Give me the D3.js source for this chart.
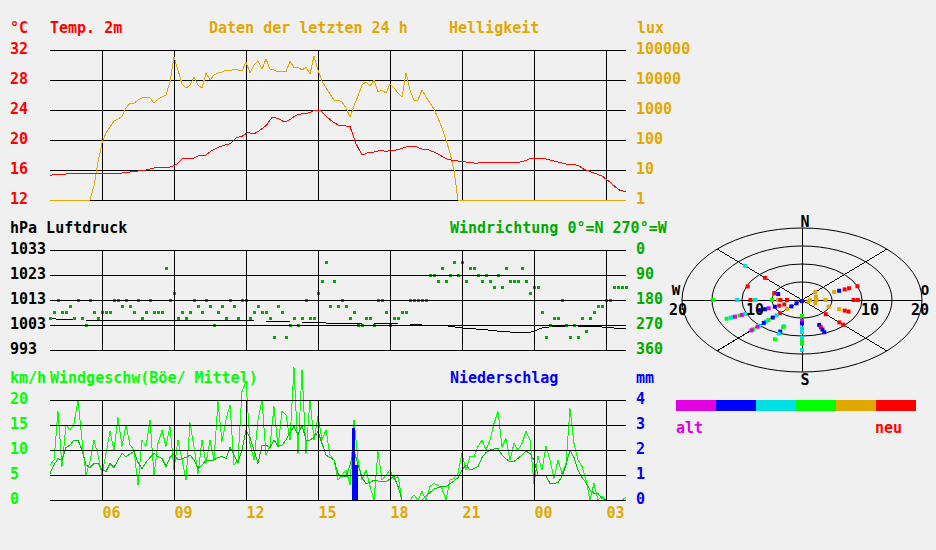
<!DOCTYPE html>
<html>
<head>
<meta charset="utf-8">
<script src="https://cdn.jsdelivr.net/npm/d3@7"></script>
<style>
  body { margin: 0; background: #f0f0f0; }
  text { font-family: "DejaVu Sans Mono", monospace; font-size: 15px; font-weight: bold; }
  .crisp path, .crisp line, .crisp rect { shape-rendering: crispEdges; }
</style>
</head>
<body>
<svg id="chart" width="936" height="550"></svg>
<script>
// ---- data ----
// temperature °C, every 15 min from 03:50
const temperature = [
  15.3,15.4,15.4,15.5,15.6,15.6,15.6,15.6,15.6,15.6,
  15.6,15.6,15.6,15.7,15.8,15.9,16.0,16.2,16.4,16.4,
  16.4,16.7,17.5,17.5,17.6,18.0,18.0,18.6,19.0,19.3,
  19.5,20.3,20.5,21.0,20.8,21.3,21.9,23.0,22.9,22.4,
  22.7,23.3,23.5,23.6,23.9,24.0,23.2,22.5,22.0,21.9,
  21.8,19.5,18.0,18.3,18.4,18.6,18.5,18.6,18.7,19.0,
  19.2,19.1,18.8,18.7,18.4,18.0,17.5,17.3,17.2,17.1,
  17.0,16.9,17.0,17.0,17.0,17.0,17.0,17.0,17.0,17.2,
  17.5,17.6,17.6,17.4,17.2,17.0,16.8,16.8,16.6,16.1,
  15.8,15.5,15.2,14.6,13.9,13.3,13.1
];

// brightness lux, every 10 min
const lux = [
  1,1,1,1,1,1,1,1,1,1,1,
  3,18,80,170,270,430,500,630,1150,1700,
  1700,2150,2500,2700,2500,1700,2300,2700,3200,8600,
  58000,21500,7400,5400,6800,12600,6800,5400,17000,10000,
  14700,17000,18500,21500,20000,23000,21500,20000,40000,17000,
  31600,43000,23000,50000,23000,21500,18500,20000,18500,43000,
  25000,27000,21500,27000,15800,63000,21500,9300,5400,3400,
  2150,2150,1850,1170,580,1370,2900,6800,8600,6300,
  10000,4000,4600,3700,7400,5400,3700,2700,17000,4600,
  2150,2150,4600,2700,1700,1080,540,250,100,37,
  10,1,
  1,1,1,1,1,1,1,1,1,1,1,1,1,1,1,1,1,1,1,1,1,
  1,1,1,1,1,1,1,1,1,1,1,1,1,1,1,1,1,1,1,1,1
];

// air pressure hPa, every 30 min
const pressure = [
  1005.7,1005.1,1005.0,1005.0,1005.0,1004.7,1004.7,1004.7,1004.7,1004.7,
  1004.7,1004.7,1004.6,1004.8,1004.7,1004.6,1004.7,1004.6,1004.6,1004.3,
  1004.2,1004.2,1004.2,1003.8,1003.6,1003.5,1003.4,1003.4,1003.5,1003.4,
  1003.4,1003.0,1002.6,1002.7,1002.0,1001.5,1001.3,1000.7,1000.3,1000.0,
  1000.0,1001.8,1002.5,1002.6,1002.6,1002.6,1002.2,1001.8,1001.8
];

// wind direction degrees, every 10 min
const windDir = [
  247.5,225,180,225,225,202.5,247.5,180,247.5,270,
  180,225,247.5,225,225,225,180,180,202.5,180,
  202.5,225,180,247.5,225,180,225,225,225,67.5,
  180,157.5,247.5,225,247.5,225,180,202.5,225,180,
  202.5,270,225,202.5,247.5,180,202.5,247.5,180,180,
  247.5,225,202.5,225,225,247.5,315,202.5,225,315,
  270,247.5,270,247.5,180,247.5,247.5,157.5,112.5,45,
  202.5,112.5,202.5,180,202.5,247.5,225,270,270,247.5,
  247.5,270,180,180,225,270,247.5,247.5,225,225,
  180,180,180,180,180,90,90,112.5,67.5,112.5,
  90,45,90,45,112.5,67.5,67.5,90,112.5,90,
  112.5,135,90,135,67.5,112.5,112.5,112.5,67.5,112.5,
  157.5,135,135,225,315,270,247.5,247.5,180,270,
  315,270,315,247.5,292.5,247.5,225,202.5,202.5,180,
  180,135,135,135,135
];

// wind gusts km/h, every 10 min
const windGust = [
  7,8,17.7,6.7,15,14,15.3,20,12,5,
  7.7,12,9,5,9.3,13.7,10,16.5,10.7,15,
  11,10,3,12,10.7,16,5,11.3,13.9,10.7,
  14.7,6,12,8,4,15.5,10.7,5.3,12,7.3,
  12,8,19.7,11.7,16,19,7,8,21.7,23.7,
  11.3,8,16,20,9,10.7,18.7,10.7,17.7,17,
  12,26.5,9.3,26,9.3,20,12,16.7,12,14,
  9,8,4,5,6,3,16,8,4,6,
  2.7,0,9.7,4,5,6,4,4.7,0,0,
  0,1,0,1.7,0,2.7,3.3,3,2.3,0,
  4,4.3,5.3,9.3,6,8.7,8.7,10.7,12,10,
  12,15.3,17.7,10.7,12.3,8,11.3,10,11.3,13.7,
  12,3.3,8.7,6,10.7,8,4.3,8,5.3,7.3,
  18.3,11.3,8,6.7,4,0,3.3,0,0.7,0,
  0,0,0,0,0.5
];

// mean wind km/h, every 10 min
const windMean = [
  5.3,7,8.3,8,10.5,11,12,12,10,7,
  6.5,7.3,7.3,6,5.7,7.3,6.5,8,9.3,8.7,
  9.2,9.7,7.5,6.3,7.5,8.5,9.3,8.7,8.3,6.7,
  8.5,9.3,8,8.3,8.5,9,8,6.3,7,8,
  8,8,8.5,8.7,8.3,10.5,9,7.5,10,14,
  12.5,10,7.3,11,11,10.5,12,10.7,11,12,
  13.5,14.7,13,15,12,12,12.5,13.7,11.3,9,
  8.5,8,5.3,4.7,4.7,7,10,7,4.5,3.3,
  3.5,4,3.8,3.7,3.7,4.2,4.7,2.7,0,0,
  0,0,0,0,0.8,1.5,2.2,2.5,2.7,2.7,
  3.2,3.8,4.5,6,7,6,6.3,6.7,8.5,9.5,
  10,10.2,10.3,9,8.2,7.7,7.7,8.3,9,9.8,
  9.3,8,5,5,4.8,3.3,3.3,3.5,4.7,7,
  10,8.5,6,4.5,3.5,2,1.3,1.3,0.3,0,
  0,0,0,0,0
];

// precipitation mm
const rainTimes = ['16:25', '16:32'];
const rainAmounts = [2.9, 1.4];

// wind rose points: direction, speed, age class (0 = alt ... 5 = neu)
const polarDir = [
  315,315,292.5,292.5,292.5,270,270,270,270,270,
  270,270,270,270,247.5,247.5,247.5,225,225,225,
  180,247.5,247.5,247.5,247.5,247.5,247.5,247.5,247.5,247.5,
  247.5,225,225,225,225,225,225,225,225,225,
  225,202.5,202.5,202.5,202.5,202.5,180,180,180,180,
  180,180,180,180,180,157.5,157.5,157.5,157.5,135,
  135,135,112.5,112.5,112.5,112.5,90,90,90,45,
  67.5,90,112.5,90,112.5,67.5,67.5,67.5,67.5,67.5
];
const polarSpeed = [
  13.4,8.7,9.8,5.0,4.3,14.8,10.8,8.6,7.9,7.7,
  5.0,4.0,3.6,2.5,4.9,4.1,3.2,1.3,2.5,3.5,
  0.3,6.0,6.7,7.7,13.6,12.9,12.5,12.1,11.3,10.8,
  10.2,5.2,6.0,6.9,7.9,8.5,9.0,10.1,10.5,11.5,
  11.9,7.9,8.2,9.5,10.1,11.8,4.4,5.8,6.5,7.9,
  8.9,10.5,11.4,12.1,13.9,7.5,8.2,8.9,9.7,5.6,
  8.8,9.7,6.7,7.7,8.4,4.8,3.9,8.6,9.3,3.1,
  2.5,1.3,1.2,2.4,2.4,5.8,6.7,7.7,8.5,10.0
];
const polarAge = [
  2,5,5,5,1,3,2,5,3,2,
  3,4,5,5,1,5,5,1,1,4,
  1,0,1,1,3,2,2,0,3,0,
  2,5,2,1,3,2,1,2,0,3,
  0,2,3,1,2,3,3,0,1,2,
  2,2,3,3,2,1,5,1,1,5,
  5,5,4,5,5,4,4,5,5,4,
  4,4,4,4,4,4,1,5,5,5
];

// tick labels
const tempTicks = [12, 16, 20, 24, 28, 32];
const luxTicks = [1, 10, 100, 1000, 10000, 100000];
const pressureTicks = [993, 1003, 1013, 1023, 1033];
const dirTicks = [0, 90, 180, 270, 360];
const speedTicks = [0, 5, 10, 15, 20];
const rainTicks = [0, 1, 2, 3, 4];
const roseRings = [5, 10, 15, 20];
const ageColors = ['#e000e0', '#0000ff', '#00e0e0', '#00ff00', '#e0a800', '#ff0000'];

// ---- drawing ----
const ORANGE = '#e0a800', RED = '#ff0000', DGREEN = '#00aa00',
      GREEN = '#00ff00', MGREEN = '#00c000', BLUE = '#0000ff';

const svg = d3.select('#chart');
svg.append('rect').attr('width', 936).attr('height', 550).attr('fill', '#f0f0f0');

const start = new Date(2024, 6, 1, 3, 50);
const end = d3.timeHour.offset(start, 24);
const x = d3.scaleTime().domain([start, end]).range([50, 626]);
const xStep = step => (d, i) => x(d3.timeMinute.offset(start, i * step));
const clock = s => {
  const [h, m] = s.split(':').map(Number);
  const t = new Date(start);
  t.setHours(h, m);
  if (t < start) t.setDate(t.getDate() + 1);
  return t;
};

const yTemp = d3.scaleLinear().domain([12, 32]).range([200, 50]);
const yLux = d3.scaleLog().domain([1, 100000]).range([200, 50]);
const yPres = d3.scaleLinear().domain([993, 1033]).range([350, 250]);
const yDir = d3.scaleLinear().domain([0, 360]).range([250, 350]);
const ySpeed = d3.scaleLinear().domain([0, 20]).range([500, 400]);
const yRain = d3.scaleLinear().domain([0, 4]).range([500, 400]);

const text = (str, x0, y0, color, anchor) =>
  svg.append('text').attr('x', x0).attr('y', y0).attr('fill', color)
    .attr('text-anchor', anchor || 'start').text(str);

function grid(y, ticks, top, bottom) {
  svg.append('g').attr('class', 'crisp').attr('color', '#000')
    .attr('transform', 'translate(50,0)')
    .call(d3.axisLeft(y).tickValues(ticks).tickSize(-576).tickFormat(''))
    .call(g => g.select('.domain').remove());
  svg.append('g').attr('class', 'crisp').attr('color', '#000')
    .attr('transform', `translate(0,${top})`)
    .call(d3.axisBottom(x).ticks(d3.timeHour.every(3)).tickSize(bottom - top).tickFormat(''))
    .call(g => g.select('.domain').remove());
}

function labels(y, ticks, side, color, fmt) {
  const axis = side === 'left' ? d3.axisLeft(y) : d3.axisRight(y);
  svg.append('g').attr('color', color)
    .attr('transform', `translate(${side === 'left' ? 10 : 636},0)`)
    .call(axis.tickValues(ticks).tickSize(0).tickPadding(0).tickFormat(fmt || d3.format('d')))
    .call(g => g.select('.domain').remove())
    .selectAll('text').attr('text-anchor', 'start').attr('x', 0).attr('dy', '0.2em');
}

// top panel: temperature + brightness
grid(yTemp, tempTicks, 50, 200);
labels(yTemp, tempTicks, 'left', RED);
labels(yLux, luxTicks, 'right', ORANGE);
text('°C', 10, 33, RED);
text('Temp. 2m', 50, 33, RED);
text('Daten der letzten 24 h', 209, 33, ORANGE);
text('Helligkeit', 449, 33, ORANGE);
text('lux', 637, 33, ORANGE);

const plot = svg.append('g').attr('class', 'crisp');
plot.append('path').datum(lux)
  .attr('fill', 'none').attr('stroke', ORANGE)
  .attr('d', d3.line().x(xStep(10)).y(d => yLux(Math.max(1, d))));
plot.append('path').datum(temperature)
  .attr('fill', 'none').attr('stroke', RED)
  .attr('d', d3.line().x(xStep(15)).y(d => yTemp(d)));

// middle panel: pressure + wind direction
grid(yPres, pressureTicks, 250, 350);
labels(yPres, pressureTicks, 'left', '#000');
labels(yDir, dirTicks, 'right', DGREEN);
text('hPa Luftdruck', 10, 233, '#000');
text('Windrichtung 0°=N 270°=W', 450, 233, DGREEN);

plot.append('path').datum(pressure)
  .attr('fill', 'none').attr('stroke', '#000')
  .attr('d', d3.line().x(xStep(30)).y(d => yPres(d)));
plot.append('g').selectAll('rect').data(windDir).join('rect')
  .attr('x', (d, i) => xStep(10)(d, i) - 1.5)
  .attr('y', d => yDir(d) - 1.5)
  .attr('width', 3).attr('height', 3)
  .attr('fill', DGREEN);

// bottom panel: wind speed + precipitation
grid(ySpeed, speedTicks, 400, 500);
labels(ySpeed, speedTicks, 'left', GREEN);
labels(yRain, rainTicks, 'right', BLUE);
text('km/h', 10, 383, GREEN);
text('Windgeschw(Böe/ Mittel)', 50, 383, GREEN);
text('Niederschlag', 450, 383, BLUE);
text('mm', 636, 383, BLUE);

plot.append('path').datum(windGust)
  .attr('fill', 'none').attr('stroke', GREEN)
  .attr('d', d3.line().x(xStep(10)).y(d => ySpeed(d)));
plot.append('path').datum(windMean)
  .attr('fill', 'none').attr('stroke', MGREEN)
  .attr('d', d3.line().x(xStep(10)).y(d => ySpeed(d)));
plot.append('g').selectAll('rect').data(rainAmounts).join('rect')
  .attr('x', (d, i) => x(clock(rainTimes[i])))
  .attr('width', (d, i) => x(d3.timeMinute.offset(clock(rainTimes[i]), 7)) - x(clock(rainTimes[i])))
  .attr('y', d => yRain(d))
  .attr('height', d => yRain(0) - yRain(d))
  .attr('fill', BLUE);

// time axis
svg.append('g').attr('color', ORANGE).attr('transform', 'translate(0,500)')
  .call(d3.axisBottom(x).ticks(d3.timeHour.every(3)).tickFormat(d3.timeFormat('%H'))
    .tickSize(0).tickPadding(7))
  .call(g => g.select('.domain').remove())
  .selectAll('text').attr('text-anchor', 'start');

// wind rose
const cx = 802, cy = 300;
const rX = d3.scaleLinear().domain([0, 20]).range([0, 120]);
const rY = d3.scaleLinear().domain([0, 20]).range([0, 72]);
const rose = svg.append('g');
rose.selectAll('ellipse').data(roseRings).join('ellipse')
  .attr('cx', cx).attr('cy', cy)
  .attr('rx', d => rX(d)).attr('ry', d => rY(d))
  .attr('fill', 'none').attr('stroke', '#000');
const outer = d3.max(roseRings);
const c45 = Math.SQRT1_2;
[[-rX(outer), 0, rX(outer), 0], [0, -rY(outer), 0, rY(outer)],
 [-rX(outer) * c45, -rY(outer) * c45, rX(outer) * c45, rY(outer) * c45],
 [-rX(outer) * c45, rY(outer) * c45, rX(outer) * c45, -rY(outer) * c45]]
  .forEach(([x1, y1, x2, y2]) => rose.append('line')
    .attr('x1', cx + x1).attr('y1', cy + y1).attr('x2', cx + x2).attr('y2', cy + y2)
    .attr('stroke', '#000').style('shape-rendering', 'crispEdges'));

// compass letters and speed labels (W/O sit just above the ring labels)
text('N', 805, 227, '#000', 'middle');
text('S', 805, 385, '#000', 'middle');
text('W', 676, 295, '#000', 'middle').style('font-size', '14px');
text('O', 925, 295, '#000', 'middle').style('font-size', '14px');
text('20', 678, 315, '#000', 'middle');
text('10', 755, 315, '#000', 'middle');
text('10', 870, 315, '#000', 'middle');
text('20', 920, 315, '#000', 'middle');

const rad = d => d * Math.PI / 180;
rose.append('g').selectAll('rect').data(polarDir).join('rect')
  .attr('x', (d, i) => cx + rX(polarSpeed[i]) * Math.sin(rad(d)) - 2)
  .attr('y', (d, i) => cy - rY(polarSpeed[i]) * Math.cos(rad(d)) - 2)
  .attr('width', 4).attr('height', 4)
  .attr('fill', (d, i) => ageColors[polarAge[i]]);

// age legend
svg.append('g').selectAll('rect').data(ageColors).join('rect')
  .attr('x', (d, i) => 676 + i * 40).attr('y', 400)
  .attr('width', 40).attr('height', 11)
  .attr('fill', d => d);
text('alt', 676, 433, ageColors[0]);
text('neu', 875, 433, ageColors[5]);
</script>
</body>
</html>
